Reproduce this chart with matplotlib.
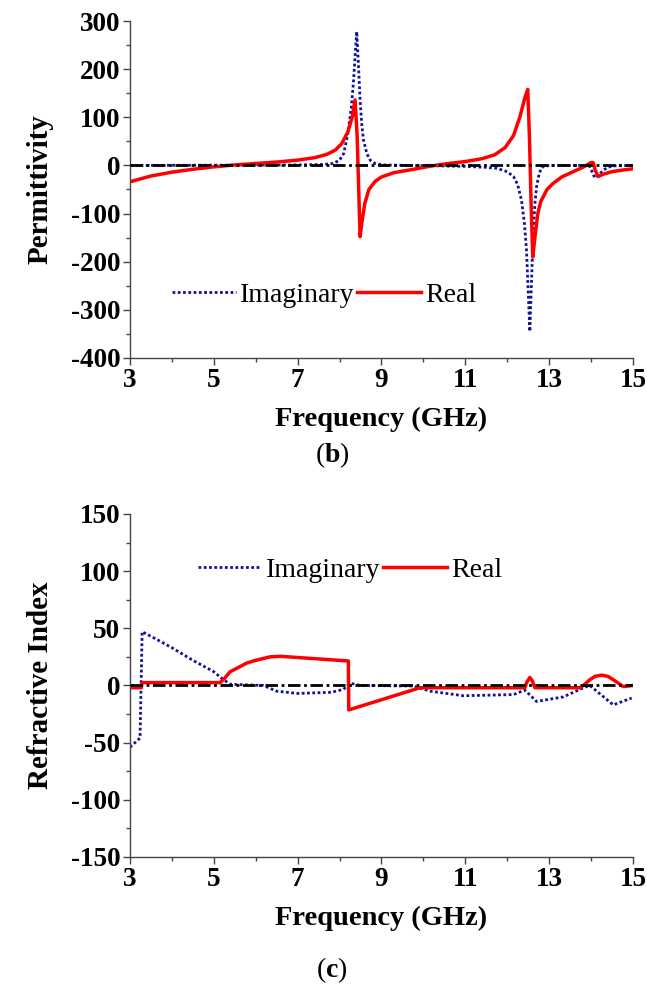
import matplotlib
matplotlib.use("Agg")
import matplotlib.pyplot as plt
from matplotlib.ticker import MultipleLocator, FixedLocator

plt.rcParams["font.family"] = ["Liberation Serif", "DejaVu Serif"]
plt.rcParams["mathtext.fontset"] = "custom"
plt.rcParams["mathtext.rm"] = "Liberation Serif"
plt.rcParams["mathtext.bf"] = "Liberation Serif:bold"
plt.rcParams["axes.unicode_minus"] = False

# ---------- (b) permittivity ----------
eps_re_f = [3.0, 3.5, 4.0, 4.5, 5.0, 5.5, 6.0, 6.5, 7.0, 7.4, 7.7, 7.9, 8.05, 8.2, 8.3,
            8.37, 8.42, 8.46, 8.49, 8.53, 8.6, 8.7, 8.85, 9.0, 9.3, 9.7, 10.2, 10.6,
            11.0, 11.4, 11.7, 11.95, 12.15, 12.3, 12.42, 12.49, 12.53, 12.57, 12.61,
            12.66, 12.73, 12.8, 12.95, 13.1, 13.3, 13.6, 13.85, 14.0, 14.05, 14.1,
            14.17, 14.3, 14.5, 14.8, 15.0]
eps_re = [-34, -22, -14, -8, -3, 1, 4, 7, 11, 16, 23, 32, 45, 70, 100,
          136, 60, -60, -148, -120, -80, -50, -33, -24, -15, -9, -1, 4,
          8, 14, 22, 37, 62, 100, 140, 158, 60, -80, -190,
          -150, -100, -75, -50, -37, -24, -12, -2, 6, 6, -10,
          -23, -18, -13, -9, -7]

eps_im_f = [3.0, 7.0, 7.6, 7.85, 8.0, 8.1, 8.2, 8.28, 8.33, 8.38, 8.41, 8.45, 8.49, 8.53,
            8.57, 8.65, 8.73, 8.85, 9.04, 11.0, 11.5, 11.75, 12.0, 12.15, 12.25, 12.34,
            12.41, 12.46, 12.5, 12.54, 12.58, 12.62, 12.66, 12.7, 12.76, 12.82, 13.0,
            13.95, 14.02, 14.09, 14.2, 14.29, 14.4, 14.53, 15.0]
eps_im = [0, 1, 2, 4, 11, 25, 67, 120, 171, 240, 278, 210, 136, 85,
          53, 25, 11, 4, 1, -2, -4, -6, -13, -23, -40, -72,
          -120, -176, -260, -345, -240, -141, -80, -44, -18, -4, 0,
          0, -12, -26, -18, -10, -4, -1, 0]

# ---------- (c) refractive index ----------
n_re_f = [3.0, 3.27, 3.29, 5.15, 5.25, 5.39, 5.6, 5.78, 6.0, 6.34, 6.58, 8.21, 8.22,
          9.92, 12.42, 12.47, 12.54, 12.6, 12.66, 13.74, 13.85, 13.97, 14.1, 14.25,
          14.4, 14.53, 14.65, 14.77, 15.0]
n_re = [-2, -2, 2.5, 2.5, 6, 12, 16, 19.5, 22, 25, 25.5, 21.4, -21.4,
        -2, -2, 3, 7, 4, -2, -2, 1, 5, 8, 9,
        8, 5, 2, -1, 0]

n_im_f = [3.0, 3.24, 3.29, 3.6, 4.0, 4.5, 5.0, 5.23, 5.4, 6.18, 6.5, 7.0, 7.8, 8.09,
          8.25, 8.49, 9.76, 10.16, 10.95, 12.15, 12.42, 12.7, 13.34, 13.82, 13.97,
          14.53, 14.97]
n_im = [-54, -46, 47, 41, 33, 22, 12, 5, 1, 0, -5, -7, -6, -3.5,
        2, 0, -0.5, -5, -9, -8, -4, -14, -10, -2, 0,
        -17, -11]

x_major = [3, 5, 7, 9, 11, 13, 15]
x_minor = [4, 6, 8, 10, 12, 14]

RED = "#ff0000"
BLUE = "#12129a"

fig = plt.figure(figsize=(6.47, 9.96), dpi=100)
ax1 = fig.add_axes([0.2009, 0.6406, 0.7774, 0.3383])
ax2 = fig.add_axes([0.2009, 0.1396, 0.7774, 0.3444])


def style(ax, ylim, major, minor, ylabel):
    ax.set_xlim(3, 15)
    ax.set_ylim(*ylim)
    ax.xaxis.set_major_locator(FixedLocator(x_major))
    ax.xaxis.set_minor_locator(FixedLocator(x_minor))
    ax.yaxis.set_major_locator(MultipleLocator(major))
    ax.yaxis.set_minor_locator(MultipleLocator(minor))
    for s in ("top", "right"):
        ax.spines[s].set_visible(False)
    for s in ("left", "bottom"):
        ax.spines[s].set_color("#444444")
        ax.spines[s].set_linewidth(1.0)
    ax.tick_params(which="major", direction="out", length=5, width=1,
                   color="#444444", labelsize=19.5, pad=2)
    ax.tick_params(which="minor", direction="out", length=3, width=1,
                   color="#444444")
    for lab in ax.get_xticklabels() + ax.get_yticklabels():
        lab.set_fontweight("bold")
    ax.set_xlabel("Frequency (GHz)", fontsize=20.5, fontweight="bold", labelpad=10)
    ax.set_ylabel(ylabel, fontsize=21, fontweight="bold", labelpad=12)


def draw(ax, im_f, im, re_f, re, legend_loc):
    ax.plot(im_f, im, color=BLUE, lw=2.0, ls=(0, (1, 0.9)), label="Imaginary")
    ax.plot(re_f, re, color=RED, lw=2.5, label="Real")
    ax.axhline(0, color="black", lw=2.0, ls=(0, (4.5, 1.3, 1, 1.3)), zorder=3)
    ax.legend(loc="center", bbox_to_anchor=legend_loc, ncol=2, frameon=False,
              fontsize=20, handlelength=2.3, handletextpad=0.15,
              columnspacing=0.1, borderpad=0)


draw(ax1, eps_im_f, eps_im, eps_re_f, eps_re, (0.386, 0.187))
style(ax1, (-400, 300), 100, 50, "Permittivity")

draw(ax2, n_im_f, n_im, n_re_f, n_re, (0.437, 0.837))
style(ax2, (-150, 150), 50, 25, "Refractive Index")

fig.text(0.513, 1 - 455 / 996, r"($\mathbf{b}$)", fontsize=20, ha="center", va="center")
fig.text(0.513, 1 - 970 / 996, r"($\mathbf{c}$)", fontsize=20, ha="center", va="center")

fig.savefig("out.png", dpi=100)
